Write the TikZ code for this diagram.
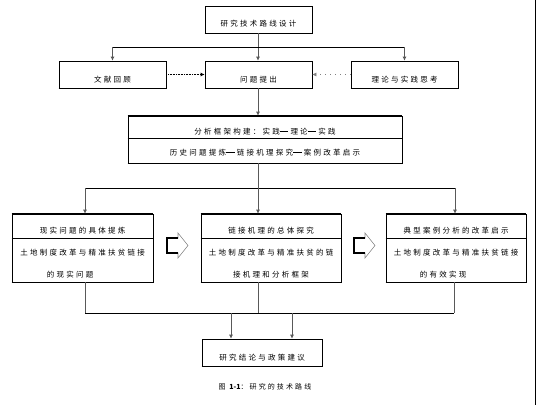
\documentclass[tikz,border=0pt]{standalone}
\usepackage{fontspec}
\newfontfamily\cjk{Noto Sans CJK SC}[LetterSpace=30]
\newfontfamily\cjkn{Noto Sans CJK SC}
\newcommand\ldash{\rule[2.6pt]{8.5pt}{1pt}\kern2.2pt}
\usetikzlibrary{arrows.meta}
\begin{document}
\begin{tikzpicture}[x=1pt,y=-1pt,
  box/.style={draw, line width=0.6pt, inner sep=0pt, minimum height=27pt},
  txt/.style={inner sep=0pt, font=\cjk\fontsize{7.5pt}{9pt}\selectfont},
  thk/.style={line width=1.5pt},
  vln/.style={draw=black!65, line width=0.9pt},
  hln/.style={draw=black, line width=1pt},
  tip/.style={-{Latex[length=4pt,width=4pt]}},
  blk/.style={draw=black!45, line width=0.6pt, fill=white},
  blkk/.style={draw=black, line width=1.6pt}
]
\useasboundingbox (0,0) rectangle (537,405);
\fill[white] (0,0) rectangle (537,405);
\draw[line width=0.8pt] (535.5,0) -- (535.5,405);

% boxes
\node[box, minimum width=107pt] (top) at (258.5,19.5) {};
\node[box, minimum width=107pt] (lit) at (112.5,74.5) {};
\node[box, minimum width=107pt] (q) at (258.5,74.5) {};
\node[box, minimum width=107pt] (th) at (404.5,74.5) {};
\node[box, minimum width=274pt, minimum height=47pt] (fr) at (265,139.5) {};
\node[box, minimum width=141pt, minimum height=68pt] (A) at (82.5,248) {};
\node[box, minimum width=140pt, minimum height=68pt] (B) at (271,248) {};
\node[box, minimum width=140pt, minimum height=68pt] (C) at (456,248) {};
\node[box, minimum width=120pt] (fin) at (262,352.5) {};

\foreach \n in {top,lit,q,th,fin} \draw[thk] (\n.south west) -- (\n.south east);
\foreach \n in {fr,A,B,C} {\draw[thk] (\n.south west) -- (\n.south east);
  \draw[thk] (\n.north west) -- (\n.north east);}
\draw[line width=0.8pt] (fr.west |- 0,138) coordinate (frl) -- (fr.east |- 0,138) coordinate (frr);
\foreach \n in {A,B,C} \draw[line width=0.8pt] (\n.west |- 0,238) -- (\n.east |- 0,238);

% texts
\node[txt] (t0) at (258.5,24) {研究技术路线设计};
\node[txt] (t1) at (112.5,80) {文献回顾};
\node[txt] (t2) at (258.5,80) {问题提出};
\node[txt] (t3) at (404.5,80) {理论与实践思考};
\node[txt] (t4) at (265,131.5) {分析框架构建：实践\ldash 理论\ldash 实践};
\node[txt] (t5) at (265,152.5) {历史问题提炼\ldash 链接机理探究\ldash 案例改革启示};
\node[txt] (a1) at (82.5,231) {现实问题的具体提炼};
\node[txt] (a2) at (82.5,253) {土地制度改革与精准扶贫链接};
\node[txt] (a3) at (70,274.5) {的现实问题};
\node[txt] (b1) at (271,231) {链接机理的总体探究};
\node[txt] (b2) at (271,253) {土地制度改革与精准扶贫的链};
\node[txt] (b3) at (271,274.5) {接机理和分析框架};
\node[txt] (c1) at (456,231) {典型案例分析的改革启示};
\node[txt] (c2) at (456,253) {土地制度改革与精准扶贫链接};
\node[txt] (c3) at (443,274.5) {的有效实现};
\node[txt] (t6) at (262,358) {研究结论与政策建议};
\node[txt, font=\cjk\fontsize{7pt}{9pt}\selectfont] (cap) at (265,387) {图 {\cjkn\bfseries 1-1}：研究的技术路线};

% connectors top
\coordinate (h1) at (258,47);
\draw[vln, tip] (top.south -| h1) -- (q.north -| h1);
\draw[hln] (lit.north |- h1) -- (th.north |- h1);
\draw[vln, tip] (lit.north |- h1) -- (lit.north);
\draw[vln, tip] (th.north |- h1) -- (th.north);
\draw[line width=1.4pt, dash pattern=on 0.8pt off 0.8pt, tip] (lit.east) -- (q.west);
\draw[draw=black!50, line width=0.5pt, dash pattern=on 1pt off 4pt, tip] (th.west) -- (q.east);
\draw[vln, tip] (q.south -| h1) -- (fr.north -| h1);

% to row 3
\coordinate (h2l) at (85,188);
\coordinate (h2m) at (258,188);
\coordinate (h2r) at (455,188);
\draw[vln] (fr.south -| h2m) -- (h2m);
\draw[hln] (h2l) -- (h2r);
\draw[vln, tip] (h2l) -- (A.north -| h2l);
\draw[vln, tip] (h2m) -- (B.north -| h2m);
\draw[vln, tip] (h2r) -- (C.north -| h2r);

% block arrows
\foreach \dx in {0,187} {
  \draw[blk] (167+\dx,238) -- (178+\dx,238) -- (178+\dx,233) -- (188+\dx,245.5)
     -- (178+\dx,258) -- (178+\dx,253) -- (167+\dx,253) -- cycle;
  \draw[blkk] (178+\dx,238) -- (167+\dx,238) -- (167+\dx,253) -- (178+\dx,253);
}

% bottom
\coordinate (h3l) at (85,313);
\coordinate (h3m) at (258,313);
\coordinate (h3r) at (454,313);
\coordinate (d1) at (231,313);
\coordinate (d2) at (292,313);
\draw[vln] (A.south -| h3l) -- (h3l);
\draw[vln] (B.south -| h3m) -- (h3m);
\draw[vln] (C.south -| h3r) -- (h3r);
\draw[hln] (h3l) -- (h3r);
\draw[vln, tip] (d1) -- (fin.north -| d1);
\draw[vln, tip] (d2) -- (fin.north -| d2);
\end{tikzpicture}
\end{document}
